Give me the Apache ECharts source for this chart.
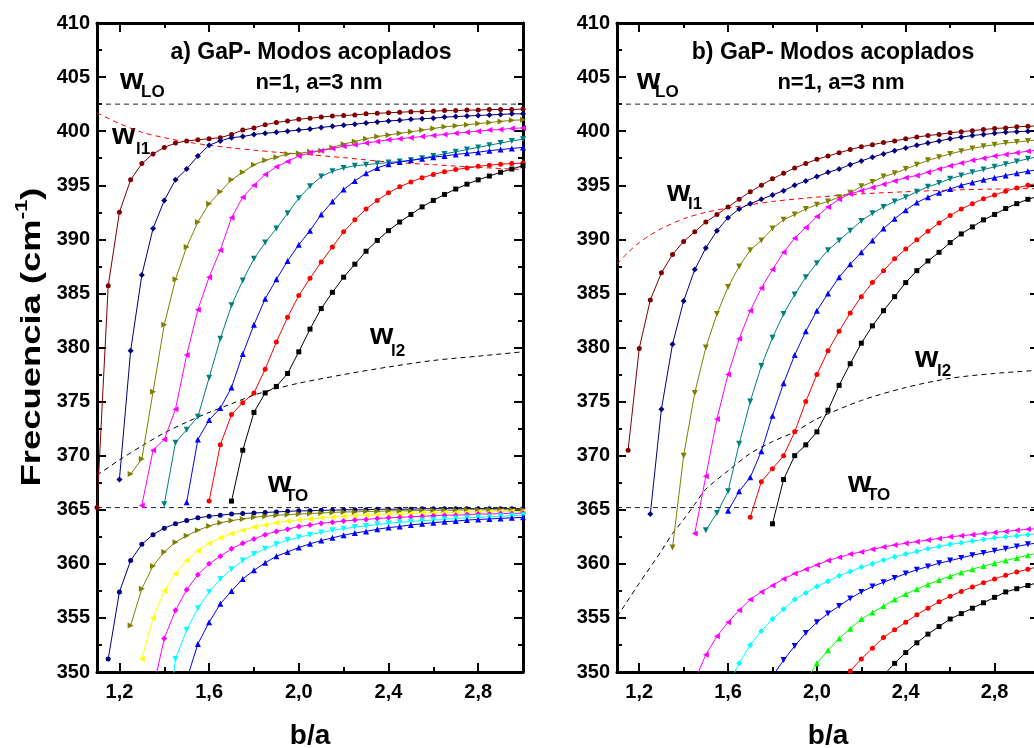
<!DOCTYPE html>
<html lang="es">
<head>
<meta charset="UTF-8">
<title>GaP - Modos acoplados</title>
<script src="https://cdn.jsdelivr.net/npm/echarts@6/dist/echarts.min.js"></script>
<style>
  html, body { margin: 0; padding: 0; background: #fff; }
  #main { width: 1034px; height: 748px; }
</style>
</head>
<body>
<div id="main"></div>
<script>
// paso en b/a entre puntos de cada curva
const STEP = 0.05;
const xMajor = [1.2, 1.6, 2.0, 2.4, 2.8];
const xMinor = [1.4, 1.8, 2.2, 2.6, 3.0];
const wLO = 402.5;
const wTO = 365.2;

// a) rama superior (valor inicial de b/a + frecuencias)
const aUpStart = { maroon: 1.10, navy: 1.20, olive: 1.25, magenta: 1.30, teal: 1.40, blue: 1.50, red: 1.60, black: 1.70 };
const aUpMaroon = [365.2, 385.7, 392.5, 395.5, 397.0, 397.9, 398.5, 398.9, 399.1, 399.2,
  399.3, 399.4, 399.7, 400.1, 400.3, 400.6, 400.8, 400.95, 401.1, 401.2,
  401.3, 401.4, 401.45, 401.5, 401.6, 401.65, 401.7, 401.75, 401.8, 401.8,
  401.85, 401.9, 401.9, 401.95, 401.95, 402.0, 402.0, 402.0, 402.05];
const aUpNavy = [367.8, 379.7, 386.7, 391.0, 393.6, 395.5, 396.5, 397.7, 398.7, 399.1,
  399.4, 399.5, 399.7, 399.8, 399.9, 400.0, 400.1, 400.2, 400.35, 400.45,
  400.55, 400.65, 400.75, 400.85, 400.95, 401.0, 401.1, 401.15, 401.2, 401.3,
  401.35, 401.4, 401.45, 401.5, 401.55, 401.6, 401.6];
const aUpOlive = [368.3, 369.7, 375.9, 382.1, 386.3, 389.3, 391.6, 393.3, 394.4, 395.5,
  396.2, 396.9, 397.3, 397.6, 397.9, 397.95, 398.1, 398.2, 398.5, 398.8,
  399.05, 399.3, 399.5, 399.65, 399.8, 399.95, 400.1, 400.25, 400.4, 400.5,
  400.6, 400.7, 400.8, 400.9, 401.0, 401.05];
const aUpMagenta = [365.4, 370.5, 371.5, 374.3, 379.3, 383.5, 386.5, 389.0, 392.0, 393.9,
  395.0, 396.0, 396.7, 397.2, 397.7, 398.0, 398.2, 398.4, 398.6, 398.75,
  398.9, 399.05, 399.2, 399.3, 399.4, 399.5, 399.6, 399.7, 399.8, 399.9,
  400.0, 400.1, 400.15, 400.25, 400.3];
const aUpTeal = [365.5, 371.2, 372.4, 373.6, 377.2, 380.8, 383.9, 386.2, 388.2, 389.7,
  391.0, 392.4, 393.8, 394.9, 395.8, 396.3, 396.6, 396.8, 396.9, 397.0,
  397.1, 397.2, 397.3, 397.5, 397.7, 397.9, 398.1, 398.3, 398.5, 398.7,
  398.9, 399.1, 399.25];
const aUpBlue = [365.7, 371.5, 373.3, 374.4, 376.3, 379.4, 382.1, 384.5, 386.3, 388.0,
  389.5, 390.8, 392.3, 393.5, 394.6, 395.4, 396.1, 396.6, 396.95, 397.15,
  397.3, 397.45, 397.6, 397.7, 397.85, 397.95, 398.05, 398.2, 398.3, 398.4,
  398.5];
const aUpRed = [365.8, 371.0, 373.8, 374.9, 375.8, 378.0, 380.5, 382.8, 384.8, 386.4,
  387.9, 389.3, 390.7, 391.8, 392.8, 393.6, 394.3, 394.85, 395.3, 395.7,
  396.0, 396.25, 396.45, 396.6, 396.75, 396.85, 396.95, 397.0, 397.05];
const aUpBlack = [365.8, 370.5, 374.0, 375.8, 376.4, 377.6, 379.6, 381.7, 383.6, 385.1,
  386.5, 387.7, 388.9, 389.9, 390.8, 391.6, 392.3, 393.0, 393.6, 394.15,
  394.65, 395.1, 395.5, 395.85, 396.2, 396.5, 396.8];

// a) rama inferior
const aLoStart = { navy: 1.15, olive: 1.25, yellow: 1.30, magenta: 1.35, cyan: 1.40, blue: 1.50 };
const aLoNavy = [351.2, 357.4, 360.3, 361.8, 362.7, 363.3, 363.7, 364.0, 364.25, 364.4,
  364.5, 364.6, 364.65, 364.7, 364.75, 364.8, 364.85, 364.9, 364.9, 364.95,
  364.95, 365.0, 365.0, 365.0, 365.05, 365.05, 365.05, 365.05, 365.1, 365.1,
  365.1, 365.1, 365.1, 365.1, 365.1, 365.1, 365.1, 365.1];
const aLoOlive = [354.3, 357.7, 359.8, 361.1, 362.0, 362.6, 363.1, 363.5, 363.8, 364.0,
  364.15, 364.3, 364.4, 364.5, 364.55, 364.6, 364.65, 364.7, 364.75, 364.8,
  364.8, 364.85, 364.85, 364.9, 364.9, 364.9, 364.95, 364.95, 364.95, 364.95,
  365.0, 365.0, 365.0, 365.0, 365.0, 365.0];
const aLoYellow = [351.2, 355.0, 357.5, 359.1, 360.3, 361.2, 361.9, 362.4, 362.8, 363.1,
  363.4, 363.6, 363.8, 363.95, 364.05, 364.15, 364.25, 364.3, 364.4, 364.45,
  364.5, 364.55, 364.6, 364.6, 364.65, 364.7, 364.7, 364.75, 364.75, 364.8,
  364.8, 364.8, 364.85, 364.85, 364.85];
const aLoMagenta = [348.4, 353.1, 355.7, 357.6, 359.0, 360.0, 360.7, 361.4, 361.9, 362.3,
  362.7, 363.0, 363.2, 363.45, 363.6, 363.75, 363.85, 363.95, 364.05, 364.1,
  364.2, 364.25, 364.3, 364.35, 364.4, 364.45, 364.5, 364.5, 364.55, 364.6,
  364.6, 364.65, 364.65, 364.7];
const aLoCyan = [343.0, 351.2, 353.9, 355.9, 357.4, 358.6, 359.5, 360.3, 360.9, 361.4,
  361.8, 362.2, 362.45, 362.7, 362.9, 363.1, 363.25, 363.4, 363.5, 363.65,
  363.75, 363.85, 363.9, 364.0, 364.05, 364.1, 364.2, 364.25, 364.3, 364.35,
  364.4, 364.45, 364.5];
const aLoBlue = [349.3, 352.6, 354.6, 356.3, 357.5, 358.6, 359.4, 360.1, 360.7, 361.1,
  361.5, 361.85, 362.15, 362.4, 362.65, 362.85, 363.0, 363.2, 363.35, 363.45,
  363.6, 363.7, 363.8, 363.9, 363.95, 364.05, 364.1, 364.15, 364.2, 364.25,
  364.3];

// b) rama superior
const bUpStart = { maroon: 1.15, navy: 1.25, olive: 1.35, magenta: 1.45, teal: 1.50, blue: 1.60, red: 1.70, black: 1.80 };
const bUpMaroon = [370.5, 379.9, 384.4, 386.9, 388.6, 389.8, 390.7, 391.6, 392.3, 393.0,
  393.7, 394.4, 395.0, 395.6, 396.1, 396.6, 397.0, 397.4, 397.7, 398.0,
  398.3, 398.55, 398.75, 398.95, 399.1, 399.3, 399.45, 399.6, 399.7, 399.85,
  399.95, 400.05, 400.15, 400.25, 400.3, 400.4, 400.45, 400.5];
const bUpNavy = [364.6, 374.3, 380.3, 384.3, 387.2, 389.2, 390.8, 392.0, 392.8, 393.3,
  393.7, 394.1, 394.5, 395.0, 395.4, 395.8, 396.2, 396.5, 396.9, 397.25,
  397.6, 397.9, 398.2, 398.45, 398.7, 398.9, 399.1, 399.3, 399.45, 399.6,
  399.7, 399.8, 399.9, 399.95, 400.0, 400.05];
const bUpOlive = [361.5, 370.0, 375.8, 380.0, 383.1, 385.6, 387.5, 389.0, 389.9, 391.0,
  391.8, 392.3, 392.8, 393.2, 393.5, 393.9, 394.3, 394.9, 395.3, 395.8,
  396.1, 396.5, 396.9, 397.3, 397.6, 397.9, 398.15, 398.4, 398.6, 398.75,
  398.9, 399.0, 399.1, 399.2];
const bUpMagenta = [362.8, 368.1, 373.4, 377.5, 380.8, 383.4, 385.5, 387.2, 388.8, 390.1,
  391.1, 392.1, 393.0, 393.7, 394.2, 394.5, 394.8, 395.1, 395.4, 395.7,
  395.9, 396.2, 396.5, 396.8, 397.05, 397.3, 397.5, 397.7, 397.85, 398.0,
  398.15, 398.25];
const bUpTeal = [363.1, 364.7, 366.7, 371.1, 375.0, 378.3, 380.9, 383.1, 384.9, 386.5,
  387.8, 389.0, 389.9, 390.8, 391.7, 392.4, 393.0, 393.5, 393.9, 394.4,
  394.85, 395.2, 395.6, 395.9, 396.2, 396.45, 396.7, 396.95, 397.2, 397.45,
  397.65];
const bUpBlue = [364.9, 366.7, 368.0, 370.4, 373.7, 376.7, 379.3, 381.5, 383.4, 385.0,
  386.5, 387.7, 388.8, 389.9, 391.0, 391.9, 392.7, 393.4, 393.9, 394.3,
  394.65, 395.0, 395.25, 395.5, 395.7, 395.9, 396.1, 396.3, 396.45];
const bUpRed = [364.3, 367.6, 368.8, 370.0, 372.2, 375.0, 377.5, 379.7, 381.5, 383.2,
  384.7, 386.0, 387.1, 388.2, 389.1, 389.95, 390.75, 391.5, 392.2, 392.8,
  393.3, 393.75, 394.1, 394.45, 394.75, 395.0, 395.2];
const bUpBlack = [363.7, 367.8, 370.0, 371.0, 372.2, 374.2, 376.5, 378.5, 380.4, 382.0,
  383.4, 384.7, 386.0, 387.1, 388.0, 388.8, 389.7, 390.5, 391.15, 391.8,
  392.3, 392.85, 393.3, 393.7, 394.0];

// b) rama inferior
const bLoStart = { magenta: 1.45, cyan: 1.60, blue: 1.80, green: 1.95, red: 2.10, black: 2.30 };
const bLoMagenta = [349.2, 351.6, 353.3, 354.6, 355.7, 356.7, 357.4, 358.0, 358.6, 359.1,
  359.5, 359.9, 360.3, 360.6, 360.9, 361.1, 361.35, 361.55, 361.75, 361.9,
  362.05, 362.2, 362.35, 362.5, 362.6, 362.7, 362.8, 362.9, 363.0, 363.1,
  363.2, 363.25];
const bLoCyan = [348.8, 350.8, 352.5, 353.8, 354.9, 355.8, 356.7, 357.3, 357.9, 358.4,
  358.9, 359.3, 359.7, 360.0, 360.35, 360.65, 360.9, 361.15, 361.4, 361.6,
  361.8, 361.95, 362.1, 362.25, 362.4, 362.5, 362.6, 362.7, 362.8];
const bLoBlue = [349.6, 351.1, 352.4, 353.6, 354.6, 355.4, 356.1, 356.8, 357.4, 357.9,
  358.3, 358.7, 359.1, 359.45, 359.75, 360.05, 360.3, 360.55, 360.8, 361.0,
  361.2, 361.4, 361.6, 361.8, 361.95];
const bLoGreen = [349.2, 350.8, 352.0, 353.1, 354.0, 354.9, 355.5, 356.1, 356.7, 357.2,
  357.65, 358.1, 358.5, 358.85, 359.2, 359.5, 359.8, 360.05, 360.3, 360.55,
  360.8, 361.0];
const bLoRed = [348.9, 350.1, 351.2, 352.2, 353.2, 353.9, 354.6, 355.3, 355.9, 356.5,
  357.0, 357.45, 357.85, 358.25, 358.6, 358.95, 359.25, 359.5, 359.75];
const bLoBlack = [349.7, 350.8, 351.8, 352.7, 353.5, 354.2, 354.9, 355.4, 355.9, 356.4,
  356.9, 357.4, 357.7, 358.0, 358.3];

// curvas wl1 / wl2 (lineas discontinuas)
const aL1x = [1.1, 1.2, 1.3, 1.4, 1.5, 1.6, 1.7, 1.8, 1.9, 2.0, 2.2, 2.4, 2.6, 2.8, 3.0];
const aL1y = [401.7, 400.7, 399.9, 399.4, 399.0, 398.7, 398.45, 398.25, 398.05, 397.9, 397.55, 397.15, 396.9, 396.65, 396.45];
const aL2x = [1.1, 1.2, 1.3, 1.4, 1.5, 1.6, 1.7, 1.8, 1.9, 2.0, 2.2, 2.4, 2.6, 2.8, 3.0];
const aL2y = [368.2, 369.6, 370.9, 372.1, 373.1, 374.0, 374.8, 375.6, 376.2, 376.7, 377.5, 378.2, 378.8, 379.2, 379.6];
const bL1x = [1.1, 1.15, 1.2, 1.25, 1.3, 1.4, 1.5, 1.6, 1.7, 1.8, 2.0, 2.2, 2.4, 2.6, 2.8, 3.0];
const bL1y = [387.7, 388.8, 389.7, 390.4, 391.0, 391.9, 392.5, 392.9, 393.2, 393.5, 393.9, 394.2, 394.4, 394.55, 394.65, 394.7];
const bL2x = [1.1, 1.2, 1.3, 1.35, 1.4, 1.45, 1.5, 1.6, 1.7, 1.8, 1.9, 2.0, 2.2, 2.4, 2.6, 2.8, 3.0];
const bL2y = [355.1, 358.2, 361.2, 362.8, 364.1, 365.5, 366.9, 368.6, 370.2, 371.3, 372.2, 373.4, 375.1, 376.3, 377.15, 377.6, 377.9];

const FONT = '"Liberation Sans", Arial, sans-serif';
const COL = {
  maroon: '#800000', navy: '#000080', olive: '#808000', magenta: '#ff00ff', teal: '#008080',
  blue: '#0000ff', red: '#ff0000', black: '#000000', yellow: '#ffff00', cyan: '#00ffff', green: '#00ff00'
};
// simbolo, rotacion, tamano
const MK = {
  circle: ['circle', 0, 5], diamond: ['diamond', 0, 6], square: ['rect', 0, 5],
  up: ['triangle', 0, 6], down: ['triangle', 180, 6], left: ['triangle', 90, 6], right: ['triangle', -90, 6]
};

function toPoints(start, vals) {
  return vals.map((v, i) => [+(start + i * STEP).toFixed(2), v]);
}
function zip(xs, ys) {
  return xs.map((x, i) => [x, ys[i]]);
}

let series = [];
function addCurve(panel, start, vals, color, mk) {
  const m = MK[mk];
  series.push({
    type: 'line', xAxisIndex: panel * 4, yAxisIndex: panel * 2,
    data: toPoints(start, vals),
    symbol: m[0], symbolRotate: m[1], symbolSize: m[2], showAllSymbol: true,
    lineStyle: { color: COL[color], width: 1 },
    itemStyle: { color: COL[color] },
    z: 3, silent: true, animation: false
  });
}
function addDash(panel, pts, color, smooth) {
  series.push({
    type: 'line', xAxisIndex: panel * 4, yAxisIndex: panel * 2,
    data: pts, symbol: 'none', smooth: smooth ? 0.3 : false,
    lineStyle: { color: color, width: 1, type: [5, 4] },
    z: 2, silent: true, animation: false
  });
}

// panel a
addDash(0, [[1.1, wLO], [3.0, wLO]], '#222');
addDash(0, [[1.1, wTO], [3.0, wTO]], '#222');
addDash(0, zip(aL1x, aL1y), '#ff0000', true);
addDash(0, zip(aL2x, aL2y), '#000', true);
addCurve(0, aUpStart.maroon, aUpMaroon, 'maroon', 'circle');
addCurve(0, aUpStart.navy, aUpNavy, 'navy', 'diamond');
addCurve(0, aUpStart.olive, aUpOlive, 'olive', 'right');
addCurve(0, aUpStart.magenta, aUpMagenta, 'magenta', 'left');
addCurve(0, aUpStart.teal, aUpTeal, 'teal', 'down');
addCurve(0, aUpStart.blue, aUpBlue, 'blue', 'up');
addCurve(0, aUpStart.red, aUpRed, 'red', 'circle');
addCurve(0, aUpStart.black, aUpBlack, 'black', 'square');
addCurve(0, aLoStart.navy, aLoNavy, 'navy', 'circle');
addCurve(0, aLoStart.olive, aLoOlive, 'olive', 'right');
addCurve(0, aLoStart.yellow, aLoYellow, 'yellow', 'left');
addCurve(0, aLoStart.magenta, aLoMagenta, 'magenta', 'diamond');
addCurve(0, aLoStart.cyan, aLoCyan, 'cyan', 'down');
addCurve(0, aLoStart.blue, aLoBlue, 'blue', 'up');

// panel b
addDash(1, [[1.1, wLO], [3.0, wLO]], '#222');
addDash(1, [[1.1, wTO], [3.0, wTO]], '#222');
addDash(1, zip(bL1x, bL1y), '#ff0000', true);
addDash(1, zip(bL2x, bL2y), '#000', true);
addCurve(1, bUpStart.maroon, bUpMaroon, 'maroon', 'circle');
addCurve(1, bUpStart.navy, bUpNavy, 'navy', 'diamond');
addCurve(1, bUpStart.olive, bUpOlive, 'olive', 'down');
addCurve(1, bUpStart.magenta, bUpMagenta, 'magenta', 'left');
addCurve(1, bUpStart.teal, bUpTeal, 'teal', 'down');
addCurve(1, bUpStart.blue, bUpBlue, 'blue', 'up');
addCurve(1, bUpStart.red, bUpRed, 'red', 'circle');
addCurve(1, bUpStart.black, bUpBlack, 'black', 'square');
addCurve(1, bLoStart.magenta, bLoMagenta, 'magenta', 'left');
addCurve(1, bLoStart.cyan, bLoCyan, 'cyan', 'diamond');
addCurve(1, bLoStart.blue, bLoBlue, 'blue', 'down');
addCurve(1, bLoStart.green, bLoGreen, 'green', 'up');
addCurve(1, bLoStart.red, bLoRed, 'red', 'circle');
addCurve(1, bLoStart.black, bLoBlack, 'black', 'square');

const labelStyle = { color: '#000', fontSize: 20, fontWeight: 'bold', fontFamily: FONT };
const nameStyle = { color: '#000', fontSize: 28, fontWeight: 'bold', fontFamily: FONT };

function xAx(grid, pos, ticks, len, main) {
  return {
    type: 'value', gridIndex: grid, position: pos, min: 1.1, max: 3.0,
    axisLine: { show: main, onZero: false, lineStyle: { color: '#000', width: 3 } },
    axisTick: { show: true, inside: true, length: len, customValues: ticks, lineStyle: { color: '#000', width: 2 } },
    axisLabel: Object.assign({
      show: main && pos === 'bottom', customValues: ticks, margin: 10,
      formatter: v => v.toFixed(1).replace('.', ',')
    }, labelStyle),
    splitLine: { show: false },
    name: main && pos === 'bottom' ? 'b/a' : '', nameLocation: 'middle', nameGap: 50,
    nameTextStyle: nameStyle
  };
}
function yAx(grid, pos) {
  return {
    type: 'value', gridIndex: grid, position: pos, min: 350, max: 410, interval: 5,
    axisLine: { show: true, onZero: false, lineStyle: { color: '#000', width: 3 } },
    axisTick: { show: true, inside: true, length: 9, lineStyle: { color: '#000', width: 2 } },
    minorTick: { show: true, splitNumber: 2, length: 5, lineStyle: { color: '#000', width: 2 } },
    axisLabel: Object.assign({ show: pos === 'left', margin: 7 }, labelStyle),
    splitLine: { show: false }, minorSplitLine: { show: false }
  };
}

// texto w con subindice
function omega(x, base, sub, sx, sbase) {
  return [
    { type: 'text', x: x, y: base - 24, style: { text: 'w', font: 'bold 30px ' + FONT, fill: '#000', align: 'left', verticalAlign: 'top' } },
    { type: 'text', x: sx, y: sbase - 14, style: { text: sub, font: 'bold 17px ' + FONT, fill: '#000', align: 'left', verticalAlign: 'top' } }
  ];
}
function title(x, y, txt, size) {
  return { type: 'text', x: x, y: y, style: { text: txt, font: 'bold ' + size + 'px ' + FONT, fill: '#000', align: 'center', verticalAlign: 'top' } };
}

let graphics = [
  title(311, 41, 'a) GaP- Modos acoplados', 23),
  title(319, 72, 'n=1, a=3 nm', 22),
  title(833, 41, 'b) GaP- Modos acoplados', 23),
  title(841, 72, 'n=1, a=3 nm', 22),
  // titulo del eje y, algo estirado como en la figura original
  {
    type: 'text', x: 32, y: 337, rotation: Math.PI / 2, scaleX: 1.3,
    style: {
      text: 'Frecuencia (cm{sup|-1})', font: 'bold 28px ' + FONT, fill: '#000',
      align: 'center', verticalAlign: 'middle', lineHeight: 36,
      rich: { sup: { font: 'bold 17px ' + FONT, fill: '#000', verticalAlign: 'top' } }
    }
  }
].concat(
  omega(120, 90, 'LO', 141, 98),
  omega(112, 145, 'l1', 136, 155),
  omega(370, 345, 'l2', 391, 357),
  omega(268, 493, 'TO', 285, 502),
  omega(637, 90, 'LO', 655, 98),
  omega(667, 202, 'l1', 688, 210),
  omega(915, 368, 'l2', 937, 377),
  omega(848, 493, 'TO', 867, 501)
);

let myChart = echarts.init(document.getElementById('main'));
let option = {
  backgroundColor: '#fff',
  animation: false,
  grid: [
    { left: 97, top: 23, width: 426, height: 649, outerBoundsMode: 'none', containLabel: false },
    { left: 617, top: 23, width: 422, height: 649, outerBoundsMode: 'none', containLabel: false }
  ],
  xAxis: [
    xAx(0, 'bottom', xMajor, 9, true), xAx(0, 'bottom', xMinor, 5, false),
    xAx(0, 'top', xMajor, 9, true), xAx(0, 'top', xMinor, 5, false),
    xAx(1, 'bottom', xMajor, 9, true), xAx(1, 'bottom', xMinor, 5, false),
    xAx(1, 'top', xMajor, 9, true), xAx(1, 'top', xMinor, 5, false)
  ],
  yAxis: [yAx(0, 'left'), yAx(0, 'right'), yAx(1, 'left'), yAx(1, 'right')],
  graphic: graphics,
  series: series
};
myChart.setOption(option);
</script>
</body>
</html>
